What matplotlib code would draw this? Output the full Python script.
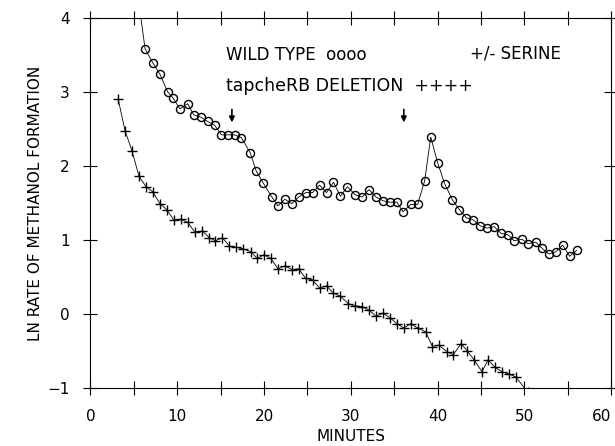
import matplotlib
matplotlib.use("Agg")
import matplotlib.pyplot as plt

# wild type (circles)
wt_min = [5.7, 6.3, 7.2, 8.0, 8.9, 9.5, 10.3, 11.2, 11.9, 12.7, 13.5, 14.3, 15.1, 15.9, 16.6,
          17.4, 18.4, 19.1, 19.9, 20.9, 21.6, 22.4, 23.2, 24.0, 24.8, 25.6, 26.4, 27.2, 28.0,
          28.8, 29.6, 30.5, 31.3, 32.1, 32.9, 33.7, 34.5, 35.3, 36.0, 36.9, 37.7, 38.5, 39.2,
          40.0, 40.8, 41.7, 42.5, 43.3, 44.1, 44.9, 45.7, 46.5, 47.3, 48.1, 48.8, 49.7, 50.4,
          51.3, 52.0, 52.8, 53.6, 54.4, 55.2, 56.0]
wt_ln = [4.1, 3.58, 3.39, 3.24, 3.0, 2.92, 2.77, 2.84, 2.69, 2.66, 2.6, 2.55, 2.42, 2.42, 2.42,
         2.38, 2.18, 1.93, 1.77, 1.58, 1.46, 1.55, 1.49, 1.58, 1.64, 1.64, 1.74, 1.64, 1.78,
         1.59, 1.72, 1.61, 1.58, 1.68, 1.58, 1.53, 1.51, 1.51, 1.38, 1.48, 1.48, 1.8, 2.39,
         2.04, 1.76, 1.54, 1.41, 1.3, 1.27, 1.19, 1.16, 1.18, 1.09, 1.07, 0.99, 1.01, 0.95,
         0.97, 0.89, 0.81, 0.84, 0.93, 0.78, 0.86]

# tapcheRB deletion (plus signs)
del_min = [3.2, 4.0, 4.8, 5.6, 6.4, 7.2, 8.0, 8.8, 9.6, 10.4, 11.2, 12.0, 12.9, 13.7, 14.4,
           15.2, 16.0, 16.8, 17.6, 18.5, 19.2, 20.0, 20.8, 21.6, 22.4, 23.2, 24.0, 24.8, 25.6,
           26.4, 27.2, 28.0, 28.8, 29.7, 30.5, 31.3, 32.1, 32.9, 33.7, 34.5, 35.3, 36.1, 36.9,
           37.7, 38.6, 39.4, 40.1, 41.1, 41.8, 42.7, 43.4, 44.2, 45.1, 45.8, 46.6, 47.4, 48.2,
           49.0, 50.4]
del_ln = [2.9, 2.47, 2.2, 1.86, 1.72, 1.65, 1.49, 1.41, 1.27, 1.28, 1.24, 1.11, 1.12, 1.03, 0.99,
          1.03, 0.92, 0.9, 0.88, 0.84, 0.75, 0.8, 0.75, 0.61, 0.65, 0.6, 0.61, 0.48, 0.46,
          0.35, 0.38, 0.28, 0.24, 0.14, 0.11, 0.1, 0.05, -0.03, 0.01, -0.05, -0.13, -0.19, -0.13,
          -0.19, -0.24, -0.44, -0.42, -0.51, -0.55, -0.4, -0.5, -0.62, -0.78, -0.62, -0.72, -0.78, -0.81,
          -0.85, -1.06]

# serine addition/removal times
arrow_min = [16.3, 36.1]

fig = plt.figure(figsize=(6.15, 4.46), dpi=100)
ax = fig.add_axes([0.147, 0.130, 0.847, 0.830])

ax.plot(wt_min, wt_ln, color='black', lw=0.6, marker='o', mfc='none', mec='black',
        ms=5.8, mew=1.0)
ax.plot(del_min, del_ln, color='black', lw=0.6, marker='+', ms=7, mew=1.0)

for xm in arrow_min:
    ax.annotate('', xy=(xm, 2.55), xytext=(xm, 2.8),
                arrowprops=dict(arrowstyle='-|>', color='black', lw=1.2,
                                mutation_scale=8))

ax.text(15.6, 3.5, 'WILD TYPE  oooo', fontsize=12, va='center', ha='left')
ax.text(43.7, 3.52, '+/- SERINE', fontsize=12, va='center', ha='left')
ax.text(15.6, 3.08, 'tapcheRB DELETION  ++++', fontsize=12.5, va='center', ha='left')

ax.set_xlim(0, 60)
ax.set_ylim(-1, 4)
ax.set_xticks(range(0, 61, 10))
ax.set_xticks(range(0, 61, 5), minor=True)
ax.set_yticks(range(-1, 5))
ax.tick_params(axis='both', which='both', direction='inout', top=True, right=True,
               labelsize=11, width=0.8)
ax.tick_params(axis='both', which='major', length=10)
ax.tick_params(axis='x', which='minor', length=10)
ax.tick_params(axis='x', which='major', pad=10)
ax.tick_params(axis='y', which='major', pad=10)
for s in ax.spines.values():
    s.set_linewidth(0.8)

# last label sits at the figure edge
ax.get_xticklabels()[-1].set_horizontalalignment('right')

ax.set_xlabel('MINUTES', fontsize=11, labelpad=4)
ax.set_ylabel('LN RATE OF METHANOL FORMATION', fontsize=11, labelpad=3)

fig.savefig('out.png', dpi=100)
